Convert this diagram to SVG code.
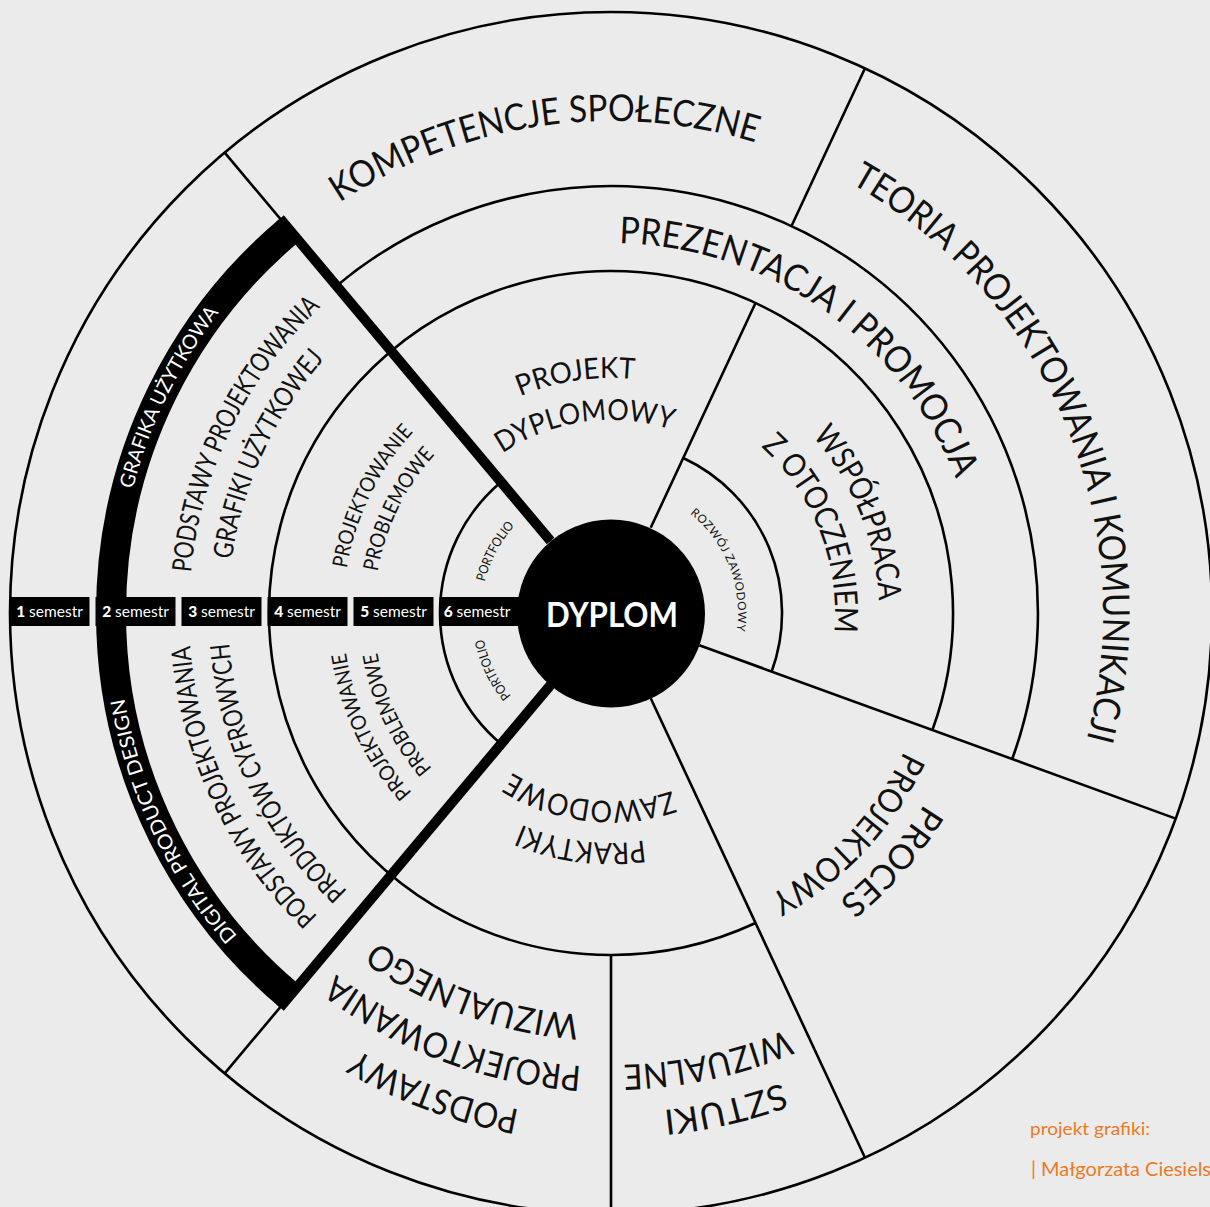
<svg xmlns="http://www.w3.org/2000/svg" xmlns:xlink="http://www.w3.org/1999/xlink" width="1210" height="1207" viewBox="0 0 1210 1207">
<style>
.ln{fill:none;stroke:#000;stroke-width:2.6}
.thick{fill:none;stroke:#000;stroke-width:10}
.t{font-family:Lato,"Noto Sans",sans-serif;fill:#111}
.w{font-family:Lato,"Noto Sans",sans-serif;fill:#fff}
.sem{font-family:Lato,"Noto Sans",sans-serif;fill:#fff;font-size:15.5px}
.box{fill:#000}
.or{font-family:Lato,"Noto Sans",sans-serif;fill:#ec7a24}
</style>
<defs>
<path id="p127" d="M484 613A127 127 0 0 1 738 613"/>
<path id="p130" d="M481 613A130 130 0 0 1 741 613"/>
<path id="p188" d="M423 613A188 188 0 0 1 799 613"/>
<path id="p193" d="M418 613A193 193 0 0 1 804 613"/>
<path id="p224" d="M387 613A224 224 0 0 1 835 613"/>
<path id="p230" d="M381 613A230 230 0 0 1 841 613"/>
<path id="p235" d="M376 613A235 235 0 0 1 846 613"/>
<path id="p237" d="M374 613A237 237 0 0 1 848 613"/>
<path id="p268" d="M343 613A268 268 0 0 1 879 613"/>
<path id="p324" d="M287 613A324 324 0 0 1 935 613"/>
<path id="p367" d="M244 613A367 367 0 0 1 978 613"/>
<path id="p370" d="M241 613A370 370 0 0 1 981 613"/>
<path id="p383" d="M228 613A383 383 0 0 1 994 613"/>
<path id="p403" d="M208 613A403 403 0 0 1 1014 613"/>
<path id="p422" d="M189 613A422 422 0 0 1 1033 613"/>
<path id="p452" d="M159 613A452 452 0 0 1 1063 613"/>
<path id="p454" d="M157 613A454 454 0 0 1 1065 613"/>
<path id="p492" d="M119 613A492 492 0 0 1 1103 613"/>
<path id="p494" d="M117 613A494 494 0 0 1 1105 613"/>
<path id="p500" d="M111 613A500 500 0 0 1 1111 613"/>
<path id="p505" d="M106 613A505 505 0 0 1 1116 613"/>
</defs>
<rect width="1210" height="1207" fill="#ebebeb"/>

<g id="connectors">
<circle class="ln" cx="611" cy="613" r="601"/>
<path class="ln" d="M336.5 285.9A427 427 0 0 1 1012.2 759"/>
<path class="ln" d="M755.5 923A342 342 0 1 1 932.4 730"/>
<path class="ln" d="M501.1 744A171 171 0 0 1 501.1 482"/>
<path class="ln" d="M683.3 458A171 171 0 0 1 771.7 671.5"/>
<path class="ln" d="M550.6 541L224.7 152.6"/>
<path class="ln" d="M550.6 685L224.7 1073.4"/>
<path class="ln" d="M650.7 527.8L755.5 303M791.5 226L865 68.3"/>
<path class="ln" d="M699.3 645.2L1175.8 818.6"/>
<path class="ln" d="M650.7 698.2L865 1157.7"/>
<path class="ln" d="M611 955L611 1214"/>
<path fill="none" stroke="#000" stroke-width="30" d="M289.6 996A500 500 0 0 1 289.6 230"/>
<path class="thick" d="M550.6 541L280 218.5"/>
<path class="thick" d="M550.6 685L280 1007.5"/>
</g>

<g id="semestry">
<rect class="box" x="9.5" y="597" width="80" height="29"/>
<rect class="box" x="95.5" y="597" width="80" height="29"/>
<rect class="box" x="181.5" y="597" width="80" height="29"/>
<rect class="box" x="267.5" y="597" width="80" height="29"/>
<rect class="box" x="353.5" y="597" width="80" height="29"/>
<rect class="box" x="439.5" y="597" width="90" height="29"/>
<text class="sem" x="49.5" y="617" text-anchor="middle"><tspan font-weight="900">1</tspan> semestr</text>
<text class="sem" x="135.5" y="617" text-anchor="middle"><tspan font-weight="900">2</tspan> semestr</text>
<text class="sem" x="221.5" y="617" text-anchor="middle"><tspan font-weight="900">3</tspan> semestr</text>
<text class="sem" x="307.5" y="617" text-anchor="middle"><tspan font-weight="900">4</tspan> semestr</text>
<text class="sem" x="393.5" y="617" text-anchor="middle"><tspan font-weight="900">5</tspan> semestr</text>
<text class="sem" x="477" y="617" text-anchor="middle"><tspan font-weight="900">6</tspan> semestr</text>
</g>

<g id="dyplom">
<circle cx="611" cy="613.5" r="94" fill="#000"/>
<text class="w" x="612" y="626.5" font-size="35" font-weight="700" text-anchor="middle" textLength="132" lengthAdjust="spacingAndGlyphs">DYPLOM</text>
</g>

<g id="kompetencje">
<text class="t" font-size="37" transform="rotate(-8.2 611 613)"><textPath href="#p492" startOffset="50%" text-anchor="middle" textLength="434" lengthAdjust="spacingAndGlyphs">KOMPETENCJE SPOŁECZNE</textPath></text>
</g>
<g id="prezentacja">
<text class="t" font-size="37" transform="rotate(35 611 613)"><textPath href="#p370" startOffset="50%" text-anchor="middle" textLength="436" lengthAdjust="spacingAndGlyphs">PREZENTACJA I PROMOCJA</textPath></text>
</g>
<g id="teoria">
<text class="t" font-size="37" transform="rotate(67 611 613)"><textPath href="#p492" startOffset="50%" text-anchor="middle" textLength="650" lengthAdjust="spacingAndGlyphs">TEORIA PROJEKTOWANIA I KOMUNIKACJI</textPath></text>
</g>
<g id="projekt-dyplomowy">
<text class="t" font-size="29" transform="rotate(-8.5 611 613)"><textPath href="#p235" startOffset="50%" text-anchor="middle" textLength="117" lengthAdjust="spacingAndGlyphs">PROJEKT</textPath></text>
<text class="t" font-size="29" transform="rotate(-8 611 613)"><textPath href="#p193" startOffset="50%" text-anchor="middle" textLength="177" lengthAdjust="spacingAndGlyphs">DYPLOMOWY</textPath></text>
</g>
<g id="wspolpraca">
<text class="t" font-size="32" transform="rotate(68 611 613)"><textPath href="#p268" startOffset="50%" text-anchor="middle" textLength="181" lengthAdjust="spacingAndGlyphs">WSPÓŁPRACA</textPath></text>
<text class="t" font-size="32" transform="rotate(68.5 611 613)"><textPath href="#p224" startOffset="50%" text-anchor="middle" textLength="207" lengthAdjust="spacingAndGlyphs">Z OTOCZENIEM</textPath></text>
</g>
<g id="rozwoj">
<text class="t" font-size="11.5" transform="rotate(68.3 611 613)"><textPath href="#p127" startOffset="50%" text-anchor="middle" textLength="132" lengthAdjust="spacing">ROZWÓJ ZAWODOWY</textPath></text>
</g>
<g id="proces">
<text class="t" font-size="34" transform="rotate(131.5 611 613)"><textPath href="#p367" startOffset="50%" text-anchor="middle" textLength="130" lengthAdjust="spacingAndGlyphs">PROCES</textPath></text>
<text class="t" font-size="34" transform="rotate(133 611 613)"><textPath href="#p324" startOffset="50%" text-anchor="middle" textLength="201" lengthAdjust="spacingAndGlyphs">PROJEKTOWY</textPath></text>
</g>
<g id="praktyki">
<text class="t" font-size="30" transform="rotate(187.3 611 613)"><textPath href="#p230" startOffset="50%" text-anchor="middle" textLength="126" lengthAdjust="spacingAndGlyphs">PRAKTYKI</textPath></text>
<text class="t" font-size="30" transform="rotate(186.5 611 613)"><textPath href="#p188" startOffset="50%" text-anchor="middle" textLength="167" lengthAdjust="spacingAndGlyphs">ZAWODOWE</textPath></text>
</g>
<g id="sztuki">
<text class="t" font-size="35" transform="rotate(167 611 613)"><textPath href="#p500" startOffset="50%" text-anchor="middle" textLength="122" lengthAdjust="spacingAndGlyphs">SZTUKI</textPath></text>
<text class="t" font-size="35" transform="rotate(167.8 611 613)"><textPath href="#p452" startOffset="50%" text-anchor="middle" textLength="168" lengthAdjust="spacingAndGlyphs">WIZUALNE</textPath></text>
</g>
<g id="podstawy-wizualnego">
<text class="t" font-size="35" transform="rotate(200.3 611 613)"><textPath href="#p505" startOffset="50%" text-anchor="middle" textLength="174" lengthAdjust="spacingAndGlyphs">PODSTAWY</textPath></text>
<text class="t" font-size="35" transform="rotate(200.5 611 613)"><textPath href="#p454" startOffset="50%" text-anchor="middle" textLength="266" lengthAdjust="spacingAndGlyphs">PROJEKTOWANIA</textPath></text>
<text class="t" font-size="35" transform="rotate(200 611 613)"><textPath href="#p403" startOffset="50%" text-anchor="middle" textLength="218" lengthAdjust="spacingAndGlyphs">WIZUALNEGO</textPath></text>
</g>
<g id="podstawy-grafiki">
<text class="t" font-size="27" transform="rotate(296 611 613)"><textPath href="#p422" startOffset="50%" text-anchor="middle" textLength="302" lengthAdjust="spacingAndGlyphs">PODSTAWY PROJEKTOWANIA</textPath></text>
<text class="t" font-size="27" transform="rotate(294.8 611 613)"><textPath href="#p383" startOffset="50%" text-anchor="middle" textLength="224" lengthAdjust="spacingAndGlyphs">GRAFIKI UŻYTKOWEJ</textPath></text>
</g>
<g id="problemowe-gora">
<text class="t" font-size="21" transform="rotate(296 611 613)"><textPath href="#p268" startOffset="50%" text-anchor="middle" textLength="154" lengthAdjust="spacingAndGlyphs">PROJEKTOWANIE</textPath></text>
<text class="t" font-size="21" transform="rotate(296 611 613)"><textPath href="#p237" startOffset="50%" text-anchor="middle" textLength="132" lengthAdjust="spacingAndGlyphs">PROBLEMOWE</textPath></text>
</g>
<g id="podstawy-cyfrowych">
<text class="t" font-size="27" transform="rotate(244.8 611 613)"><textPath href="#p422" startOffset="50%" text-anchor="middle" textLength="306" lengthAdjust="spacingAndGlyphs">PODSTAWY PROJEKTOWANIA</textPath></text>
<text class="t" font-size="27" transform="rotate(244.5 611 613)"><textPath href="#p383" startOffset="50%" text-anchor="middle" textLength="281" lengthAdjust="spacingAndGlyphs">PRODUKTÓW CYFROWYCH</textPath></text>
</g>
<g id="problemowe-dol">
<text class="t" font-size="21" transform="rotate(244.7 611 613)"><textPath href="#p268" startOffset="50%" text-anchor="middle" textLength="157" lengthAdjust="spacingAndGlyphs">PROJEKTOWANIE</textPath></text>
<text class="t" font-size="21" transform="rotate(244.7 611 613)"><textPath href="#p237" startOffset="50%" text-anchor="middle" textLength="130" lengthAdjust="spacingAndGlyphs">PROBLEMOWE</textPath></text>
</g>
<g id="portfolio">
<text class="t" font-size="13" transform="rotate(298 611 613)"><textPath href="#p130" startOffset="50%" text-anchor="middle" textLength="64" lengthAdjust="spacingAndGlyphs">PORTFOLIO</textPath></text>
<text class="t" font-size="13" transform="rotate(244.4 611 613)"><textPath href="#p130" startOffset="50%" text-anchor="middle" textLength="64" lengthAdjust="spacingAndGlyphs">PORTFOLIO</textPath></text>
</g>
<g id="kierunki">
<text class="w" font-size="20" transform="rotate(296 611 613)"><textPath href="#p494" startOffset="50%" text-anchor="middle" textLength="198" lengthAdjust="spacingAndGlyphs">GRAFIKA UŻYTKOWA</textPath></text>
<text class="w" font-size="20" transform="rotate(244.6 611 613)"><textPath href="#p494" startOffset="50%" text-anchor="middle" textLength="267" lengthAdjust="spacingAndGlyphs">DIGITAL PRODUCT DESIGN</textPath></text>
</g>
<g id="autor">
<text class="or" x="1030" y="1135" font-size="17.5" textLength="120" lengthAdjust="spacingAndGlyphs">projekt grafiki:</text>
<text class="or" x="1031" y="1176" font-size="19" textLength="180" lengthAdjust="spacingAndGlyphs">| Małgorzata Ciesiels</text>
</g>
</svg>
